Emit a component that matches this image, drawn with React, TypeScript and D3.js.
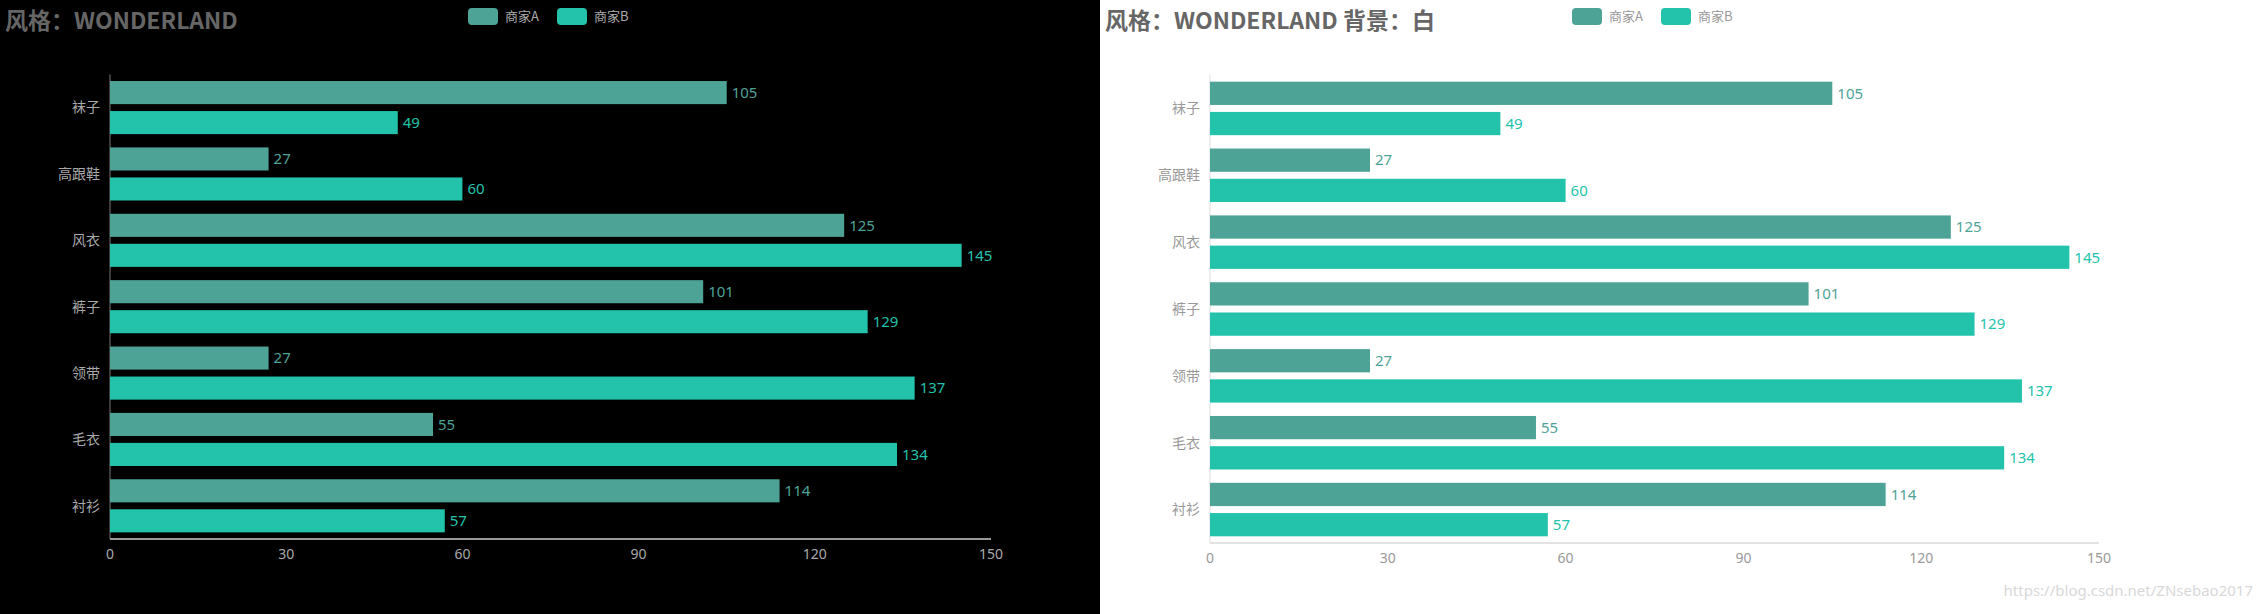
import * as d3 from "d3";

const categories = ["袜子", "高跟鞋", "风衣", "裤子", "领带", "毛衣", "衬衫"];
const seriesNames = ["商家A", "商家B"];
const valuesA = [105, 27, 125, 101, 27, 55, 114];
const valuesB = [49, 60, 145, 129, 137, 134, 57];
const xTicks = [0, 30, 60, 90, 120, 150];
const colors = ["#4ea397", "#22c3aa"];

const CJK = "'Noto Sans CJK SC', 'Noto Sans', sans-serif";

type PanelProps = {
  left: number;
  width: number;
  bg: string;
  title: string;
  plot: { x0: number; x1: number; y0: number; y1: number };
  legendX: number;
  labelColor: string;
  tickColor: string;
  xAxisColor: string;
  yAxisColor: string;
};

function Panel(p: PanelProps) {
  const x = d3.scaleLinear().domain([0, 150]).range([p.plot.x0, p.plot.x1]);

  // echarts-like layout: 20% category gap, 30% gap between the two bars
  const y = d3.scaleBand().domain(categories).range([p.plot.y0, p.plot.y1])
    .paddingInner(0.2).paddingOuter(0.1);
  const inner = d3.scaleBand().domain(seriesNames).range([0, y.bandwidth()])
    .paddingInner(0.3 / 1.3).paddingOuter(0);

  const series = [valuesA, valuesB];
  const step = y.step();

  return (
    <g>
      <rect x={p.left} y={0} width={p.width} height={614} fill={p.bg} />

      <text x={p.left + 5} y={29} fill="#666" fontFamily={CJK} fontWeight="bold" fontSize={23}>
        {p.title}
      </text>

      {/* legend */}
      {seriesNames.map((name, i) => {
        const lx = p.legendX + i * 89;
        return (
          <g key={name}>
            <rect x={lx} y={8} width={30} height={17} rx={4} fill={colors[i]} />
            <text x={lx + 37} y={21} fill={p.labelColor} fontFamily={CJK} fontSize={13}>{name}</text>
          </g>
        );
      })}

      {/* y axis */}
      <line x1={p.plot.x0} x2={p.plot.x0} y1={p.plot.y0} y2={p.plot.y1} stroke={p.yAxisColor} strokeWidth={1} />
      {categories.map((c) => (
        <text key={c} x={p.plot.x0 - 10} y={(y(c) ?? 0) - step * 0.1 + step / 2} dy="0.35em"
          textAnchor="end" fill={p.labelColor} fontFamily={CJK} fontSize={14}>{c}</text>
      ))}

      {/* bars */}
      {series.map((vals, si) =>
        categories.map((c, ci) => {
          const by = (y(c) ?? 0) + (inner(seriesNames[si]) ?? 0);
          const bh = inner.bandwidth();
          return (
            <g key={c + si}>
              <rect x={x(0)} y={by} width={x(vals[ci]) - x(0)} height={bh} fill={colors[si]} />
              <text x={x(vals[ci]) + 5} y={by + bh / 2} dy="0.35em" fill={colors[si]}
                fontFamily="'Noto Sans', sans-serif" fontSize={15}>{vals[ci]}</text>
            </g>
          );
        })
      )}

      {/* x axis */}
      <line x1={p.plot.x0} x2={p.plot.x1} y1={p.plot.y1} y2={p.plot.y1} stroke={p.xAxisColor} strokeWidth={2} />
      {xTicks.map((t) => (
        <text key={t} x={x(t)} y={p.plot.y1 + 20} textAnchor="middle" fill={p.tickColor}
          fontFamily="'Noto Sans', sans-serif" fontSize={14}>{t}</text>
      ))}
    </g>
  );
}

export default function App() {
  return (
    <svg width={2262} height={614} style={{ position: "absolute", left: 0, top: 0 }}>
      <Panel left={0} width={1100} bg="#000" title="风格：WONDERLAND"
        plot={{ x0: 110, x1: 991, y0: 74.4, y1: 539 }} legendX={468}
        labelColor="#aaa" tickColor="#aaa" xAxisColor="#999" yAxisColor="#777" />
      <Panel left={1100} width={1162} bg="#fff" title="风格：WONDERLAND 背景：白"
        plot={{ x0: 1210, x1: 2099, y0: 75, y1: 543 }} legendX={1572}
        labelColor="#999" tickColor="#999" xAxisColor="#e3e3e3" yAxisColor="#ddd" />
      <text x={2253} y={596} textAnchor="end" fill="#d8d8d8" fontFamily="'Liberation Sans Narrow', 'Noto Sans', sans-serif"
        fontSize={15}>https://blog.csdn.net/ZNsebao2017</text>
    </svg>
  );
}
